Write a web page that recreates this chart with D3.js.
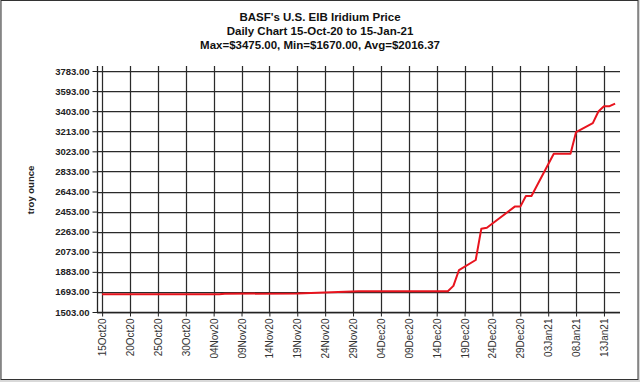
<!DOCTYPE html>
<html>
<head>
<meta charset="utf-8">
<script src="https://cdn.jsdelivr.net/npm/d3@7"></script>
<style>
  html, body { margin: 0; padding: 0; background: #d9d9d9; }
  svg { display: block; }
  text { font-family: "Liberation Sans", Arial, sans-serif; }
</style>
</head>
<body>
<svg id="chart" width="640" height="382"></svg>
<script>
// ---- data ----
const titleLines = [
  "BASF's U.S. EIB Iridium Price",
  "Daily Chart 15-Oct-20 to 15-Jan-21",
  "Max=$3475.00, Min=$1670.00, Avg=$2016.37"
];
const yLabel = "troy ounce";
const dates = [
  "2020-10-15","2020-11-05","2020-11-06","2020-11-19","2020-11-30","2020-12-16",
  "2020-12-17","2020-12-18","2020-12-21","2020-12-22","2020-12-23","2020-12-24",
  "2020-12-28","2020-12-29","2020-12-30","2020-12-31","2021-01-04","2021-01-07",
  "2021-01-08","2021-01-11","2021-01-12","2021-01-13","2021-01-14","2021-01-15"
];
const prices = [
  1670,1670,1676,1678,1700,1700,
  1750,1900,1995,2290,2300,2340,
  2500,2500,2600,2600,3000,3000,
  3205,3290,3400,3450,3450,3475
];
const yTicks = [1503,1693,1883,2073,2263,2453,2643,2833,3023,3213,3403,3593,3783];
const xTickDates = [
  "2020-10-15","2020-10-20","2020-10-25","2020-10-30","2020-11-04","2020-11-09",
  "2020-11-14","2020-11-19","2020-11-24","2020-11-29","2020-12-04","2020-12-09",
  "2020-12-14","2020-12-19","2020-12-24","2020-12-29","2021-01-03","2021-01-08","2021-01-13"
];

// ---- drawing ----
const parse = d3.utcParse("%Y-%m-%d");
const fmt = d3.utcFormat("%d%b%y");
const series = dates.map((d, i) => ({ date: parse(d), value: prices[i] }));
const xTicks = xTickDates.map(parse);

const svg = d3.select("#chart");
svg.append("rect").attr("x", 0).attr("y", 0).attr("width", 640).attr("height", 382).attr("fill", "#d9d9d9");
svg.append("rect").attr("x", 1).attr("y", 0.5).attr("width", 637).attr("height", 379)
  .attr("fill", "#ffffff").attr("stroke", "#333").attr("stroke-width", 1);

const plot = { left: 97, right: 620, top: 66, bottom: 312 };

const x = d3.scaleUtc()
  .domain([new Date(Date.UTC(2020, 9, 14, 2)), new Date(Date.UTC(2021, 0, 15, 21))])
  .range([plot.left, plot.right]);
const y = d3.scaleLinear()
  .domain([yTicks[0], yTicks[yTicks.length - 1]])
  .range([plot.bottom, 71]);

// title
svg.append("g").selectAll("text").data(titleLines).join("text")
  .attr("x", 320).attr("y", (d, i) => 21 + i * 14)
  .attr("text-anchor", "middle")
  .attr("font-size", 11.5).attr("font-weight", "bold").attr("fill", "#111")
  .text(d => d);

// grid
const grid = svg.append("g");
grid.selectAll("line.h").data(yTicks).join("line").attr("class", "h")
  .attr("x1", plot.left).attr("x2", plot.right)
  .attr("y1", d => Math.round(y(d)) + 0.5).attr("y2", d => Math.round(y(d)) + 0.5)
  .attr("stroke", "#2a2a2a").attr("stroke-width", 1.25);
grid.selectAll("line.v").data(xTicks).join("line").attr("class", "v")
  .attr("x1", d => Math.round(x(d)) + 0.5).attr("x2", d => Math.round(x(d)) + 0.5)
  .attr("y1", plot.top).attr("y2", plot.bottom)
  .attr("stroke", "#2a2a2a").attr("stroke-width", 1.25);

// y axis
const yAxis = d3.axisLeft(y).tickValues(yTicks).tickFormat(d3.format(".2f")).tickSize(5).tickPadding(3);
const gy = svg.append("g").attr("transform", `translate(${plot.left + 0.5},0)`).call(yAxis);
gy.select(".domain").attr("d", `M0,${plot.top}V${plot.bottom}`).attr("stroke", "#222").attr("stroke-width", 1.3);
gy.selectAll(".tick line").attr("stroke", "#222");
gy.selectAll(".tick text").attr("font-size", 9.5).attr("font-weight", "bold").attr("fill", "#222")
  .attr("font-family", "Liberation Sans, Arial, sans-serif");

// x axis
const xAxis = d3.axisBottom(x).tickValues(xTicks).tickFormat(fmt).tickSize(4).tickPadding(3);
const gx = svg.append("g").attr("transform", `translate(0,${plot.bottom + 0.5})`).call(xAxis);
gx.select(".domain").attr("d", `M${plot.left},0H${plot.right}`).attr("stroke", "#222").attr("stroke-width", 1.3);
gx.selectAll(".tick line").attr("stroke", "#222");
gx.selectAll(".tick text")
  .attr("font-size", 10).attr("fill", "#333")
  .attr("font-family", "Liberation Sans, Arial, sans-serif")
  .attr("text-anchor", "end")
  .attr("transform", "rotate(-90)")
  .attr("x", -6).attr("y", 0).attr("dy", "0.35em");

// y label
svg.append("text")
  .attr("transform", "translate(34,190) rotate(-90)")
  .attr("text-anchor", "middle")
  .attr("font-size", 9.5).attr("font-weight", "bold").attr("fill", "#222")
  .text(yLabel);

// price line
const line = d3.line().x(d => x(d.date)).y(d => y(d.value));
svg.append("path").datum(series)
  .attr("d", line)
  .attr("fill", "none").attr("stroke", "#e8141e").attr("stroke-width", 2)
  .attr("stroke-linejoin", "round");
</script>
</body>
</html>
